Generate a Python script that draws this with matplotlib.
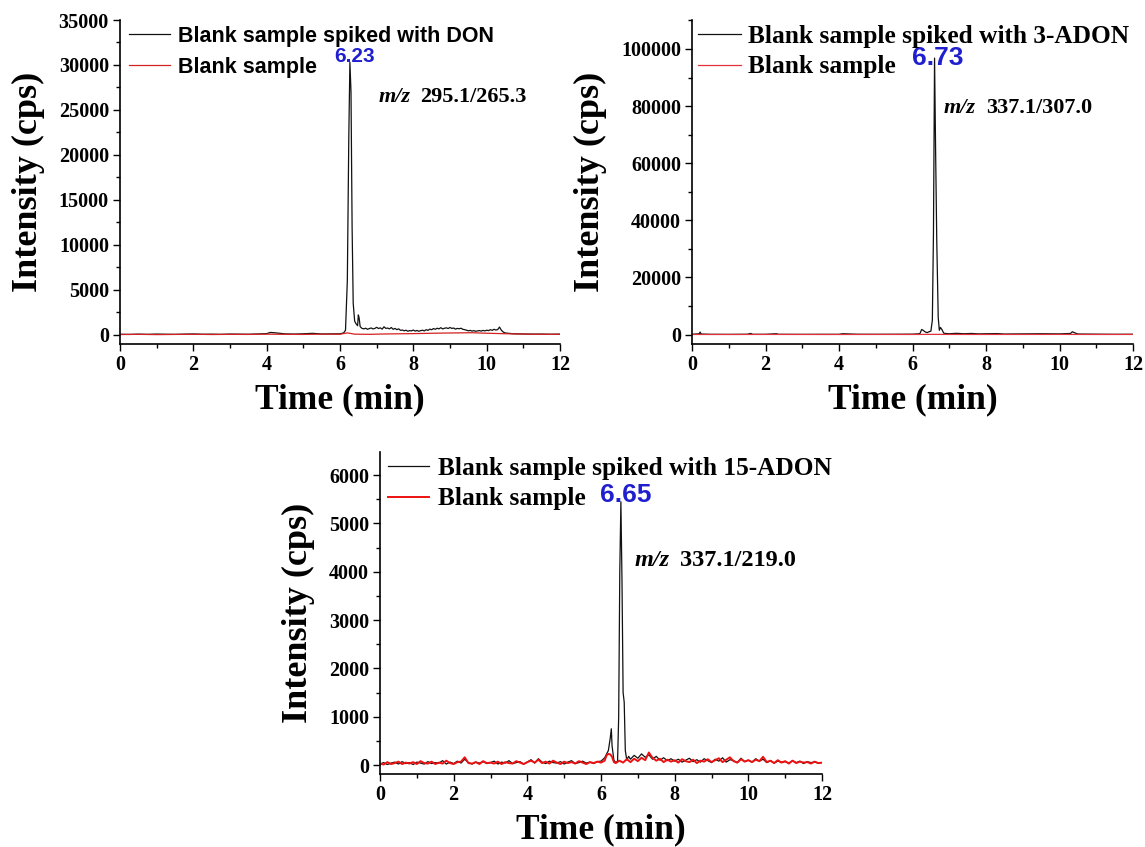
import matplotlib
matplotlib.use("Agg")
import matplotlib.pyplot as plt
from matplotlib.ticker import MultipleLocator

# ---------------- data ----------------
# Panel 1: DON, m/z 295.1/265.3
don_spiked_t = [0.0, 0.25, 0.5, 0.75, 1.0, 1.25, 1.5, 1.75, 2.0, 2.25, 2.5, 2.75, 3.0, 3.25, 3.5, 3.75,
                4.0, 4.1, 4.2, 4.3, 4.5, 4.75, 5.0, 5.25, 5.5, 5.75, 6.0, 6.1, 6.15, 6.2, 6.24, 6.27,
                6.3, 6.33, 6.36, 6.4, 6.44, 6.48, 6.5, 6.52, 6.55, 6.6,
                6.65, 6.7, 6.75, 6.8, 6.85, 6.9, 6.95, 7.0, 7.05, 7.1, 7.15, 7.2, 7.25, 7.3, 7.35, 7.4,
                7.45, 7.5, 7.55, 7.6, 7.65, 7.7, 7.75, 7.8, 7.85, 7.9, 7.95, 8.0, 8.05, 8.1, 8.15, 8.2,
                8.25, 8.3, 8.35, 8.4, 8.45, 8.5, 8.55, 8.6, 8.65, 8.7, 8.75, 8.8, 8.85, 8.9, 8.95, 9.0,
                9.05, 9.1, 9.15, 9.2, 9.25, 9.3, 9.35, 9.4, 9.45, 9.5, 9.55, 9.6, 9.65, 9.7, 9.75, 9.8,
                9.85, 9.9, 9.95, 10.0, 10.05, 10.1, 10.15, 10.2, 10.25, 10.3,
                10.35, 10.4, 10.45, 10.5, 10.6, 10.75, 11.0, 11.25, 11.5, 11.75, 12.0]
don_spiked_i = [50, 30, 60, 40, 70, 50, 40, 60, 80, 50, 60, 40, 70, 60, 50, 80,
                120, 250, 220, 180, 90, 70, 100, 150, 80, 90, 100, 200, 500, 6000, 22000, 30300,
                27000, 12000, 3500, 1500, 1200, 1000, 2200, 1900, 900, 700,
                650, 720, 600, 680, 750, 640, 700, 820, 690, 760, 620, 880, 700, 740, 650, 800,
                600, 700, 560, 650, 480, 520, 430, 500, 380, 460, 420, 520, 400, 470, 380, 450,
                500, 420, 560, 480, 620, 550, 680, 600, 720, 650, 780, 640, 720, 760, 690, 800,
                700, 740, 620, 700, 660, 720, 600, 560, 500, 430, 480, 400, 450, 380, 420, 460,
                400, 480, 420, 500, 450, 560, 480, 600, 520, 560,
                850, 500, 300, 200, 150, 100, 80, 60, 70, 50, 60]

don_blank_t = [0.0, 0.5, 1.0, 1.5, 2.0, 2.5, 3.0, 3.5, 4.0, 4.5, 5.0, 5.5, 6.0, 6.2, 6.4, 6.8,
               7.2, 7.6, 8.0, 8.4, 8.8, 9.2, 9.6, 10.0, 10.4, 10.8, 11.2, 11.6, 12.0]
don_blank_i = [20, 40, 10, 30, 50, 20, 40, 30, 60, 40, 30, 60, 50, 200, 60, 40,
               80, 100, 120, 150, 180, 200, 220, 160, 120, 80, 60, 40, 50]

# Panel 2: 3-ADON, m/z 337.1/307.0
adon3_spiked_t = [0.0, 0.2, 0.22, 0.25, 0.5, 1.0, 1.5, 1.6, 1.65, 2.0, 2.3, 2.35, 2.5, 3.0, 3.5,
                  4.0, 4.1, 4.5, 5.0, 5.5, 6.0, 6.2, 6.25, 6.3, 6.35, 6.4, 6.45, 6.5, 6.54, 6.57,
                  6.6, 6.63, 6.66, 6.7, 6.73, 6.76, 6.8, 6.85, 6.9, 7.0, 7.2, 7.4, 7.6, 7.8, 8.0,
                  8.3, 8.5, 9.0, 9.5, 10.0, 10.3, 10.35, 10.4, 10.5, 11.0, 11.5, 12.0]
adon3_spiked_i = [100, 300, 900, 200, 100, 80, 120, 400, 100, 100, 300, 100, 100, 80, 100,
                  100, 300, 120, 100, 120, 150, 300, 1800, 1400, 900, 700, 1000, 1200, 5000, 35000,
                  96800, 63000, 33000, 6000, 1500, 2500, 1800, 500, 400, 300, 450, 300, 400, 250, 300,
                  350, 200, 250, 300, 250, 400, 1000, 700, 200, 150, 100, 120]

adon3_blank_t = [0.0, 1.0, 2.0, 3.0, 4.0, 5.0, 6.0, 6.5, 7.0, 8.0, 9.0, 10.0, 11.0, 12.0]
adon3_blank_i = [50, 40, 60, 50, 40, 60, 50, 80, 60, 50, 60, 70, 50, 60]

# Panel 3: 15-ADON, m/z 337.1/219.0
adon15_spiked_t = [0.0, 0.1, 0.2, 0.3, 0.4, 0.5, 0.6, 0.7, 0.8, 0.9, 1.0, 1.1, 1.2, 1.3, 1.4, 1.5,
                   1.6, 1.7, 1.8, 1.9, 2.0, 2.1, 2.2, 2.3, 2.4, 2.5, 2.6, 2.7, 2.8, 2.9, 3.0, 3.1,
                   3.2, 3.3, 3.4, 3.5, 3.6, 3.7, 3.8, 3.9, 4.0, 4.1, 4.2, 4.3, 4.4, 4.5, 4.6, 4.7,
                   4.8, 4.9, 5.0, 5.1, 5.2, 5.3, 5.4, 5.5, 5.6, 5.7, 5.8, 5.9, 6.0, 6.1,
                   6.2, 6.25, 6.28, 6.3, 6.35, 6.4, 6.45, 6.48, 6.51, 6.54, 6.57, 6.6, 6.63, 6.66,
                   6.7, 6.75, 6.8, 6.9, 7.0, 7.1, 7.2, 7.3, 7.4, 7.5, 7.6, 7.7, 7.8, 7.9, 8.0,
                   8.1, 8.2, 8.3, 8.4, 8.5, 8.6, 8.7, 8.8, 8.9, 9.0, 9.1, 9.2, 9.3, 9.4, 9.5,
                   9.6, 9.7, 9.8, 9.9, 10.0, 10.1, 10.2, 10.3, 10.4, 10.5, 10.6, 10.7, 10.8, 10.9,
                   11.0, 11.1, 11.2, 11.3, 11.4, 11.5, 11.6, 11.7, 11.8, 11.9, 12.0]
adon15_spiked_i = [20, 50, 10, 40, 60, 20, 70, 30, 50, 10, 60, 40, 20, 70, 30, 50,
                   40, 90, 20, 60, 30, 80, 40, 120, 50, 20, 60, 40, 70, 30, 50, 80,
                   20, 60, 40, 90, 30, 50, 70, 20, 60, 110, 40, 130, 60, 30, 80, 50,
                   40, 70, 20, 60, 90, 30, 50, 80, 40, 60, 30, 70, 80, 150,
                   300, 550, 750, 400, 100, 50, 80, 1000, 4000, 5450, 3800, 1500, 1300, 300,
                   100, 180, 120, 200, 140, 230, 160, 210, 120, 180, 100, 150, 90, 130, 80,
                   120, 60, 100, 140, 70, 110, 60, 130, 90, 50, 120, 80, 150, 60, 110,
                   90, 50, 140, 70, 100, 60, 130, 80, 120, 50, 90, 40, 80, 60,
                   70, 40, 90, 50, 80, 30, 70, 50, 60, 40, 50]

adon15_blank_t = [0.0, 0.1, 0.2, 0.3, 0.4, 0.5, 0.6, 0.7, 0.8, 0.9, 1.0, 1.1, 1.2, 1.3, 1.4, 1.5,
                  1.6, 1.7, 1.8, 1.9, 2.0, 2.1, 2.2, 2.3, 2.4, 2.5, 2.6, 2.7, 2.8, 2.9, 3.0, 3.1,
                  3.2, 3.3, 3.4, 3.5, 3.6, 3.7, 3.8, 3.9, 4.0, 4.1, 4.2, 4.3, 4.4, 4.5, 4.6, 4.7,
                  4.8, 4.9, 5.0, 5.1, 5.2, 5.3, 5.4, 5.5, 5.6, 5.7, 5.8, 5.9, 6.0, 6.1, 6.15, 6.2,
                  6.25, 6.3, 6.35, 6.4, 6.5, 6.6, 6.7, 6.8, 6.9, 7.0, 7.1, 7.2, 7.3, 7.35, 7.4, 7.5,
                  7.6, 7.7, 7.8, 7.9, 8.0, 8.1, 8.2, 8.3, 8.4, 8.5, 8.6, 8.7, 8.8, 8.9, 9.0, 9.1,
                  9.2, 9.3, 9.4, 9.5, 9.6, 9.7, 9.8, 9.9, 10.0, 10.1, 10.2, 10.3, 10.4, 10.5, 10.6,
                  10.7, 10.8, 10.9, 11.0, 11.1, 11.2, 11.3, 11.4, 11.5, 11.6, 11.7, 11.8, 11.9, 12.0]
adon15_blank_i = [30, 10, 60, 20, 40, 70, 20, 50, 30, 60, 20, 80, 40, 30, 70, 20,
                  50, 30, 90, 40, 20, 60, 70, 160, 40, 30, 60, 20, 80, 40, 50, 30,
                  70, 20, 60, 40, 30, 80, 50, 20, 60, 90, 50, 110, 40, 70, 30, 90,
                  50, 20, 70, 40, 60, 30, 80, 50, 20, 60, 40, 70, 50, 90, 200, 230,
                  220, 170, 60, 40, 90, 50, 120, 60, 130, 80, 150, 100, 260, 200, 150, 90,
                  130, 60, 110, 70, 100, 50, 120, 80, 60, 110, 40, 90, 70, 120, 60, 100,
                  140, 60, 110, 160, 80, 50, 120, 70, 100, 60, 110, 80, 170, 60, 90,
                  40, 100, 50, 80, 30, 90, 40, 70, 50, 60, 30, 70, 40, 50]

x_ticks = [0, 2, 4, 6, 8, 10, 12]

# ---------------- style ----------------
SERIF = "Liberation Serif"
SANS = "Liberation Sans"
plt.rcParams["font.family"] = SERIF
plt.rcParams["font.weight"] = "bold"

fig = plt.figure(figsize=(11.45, 8.47), dpi=100)

axes_rects = [
    (120 / 1145, 1 - 344 / 847, 440 / 1145, 324 / 847),
    (692 / 1145, 1 - 344 / 847, 441 / 1145, 324 / 847),
    (380 / 1145, 1 - 774 / 847, 442 / 1145, 322 / 847),
]
ylims = [(-1035, 35000), (-3290, 110150), (-186, 6480)]
ymajor = [5000, 20000, 1000]
ymax_tick = [35000, 100000, 6000]

BLUE = "#1f1fcf"


def style_axis(ax, ylim, ymaj, ytop):
    ax.set_xlim(0, 12)
    ax.set_ylim(*ylim)
    ax.spines["top"].set_visible(False)
    ax.spines["right"].set_visible(False)
    for s in ("left", "bottom"):
        ax.spines[s].set_linewidth(1.2)
    ax.set_xticks(x_ticks)
    ax.xaxis.set_minor_locator(MultipleLocator(1))
    ax.set_yticks(list(range(0, ytop + 1, ymaj)))
    ax.yaxis.set_minor_locator(MultipleLocator(ymaj / 2))
    ax.tick_params(which="major", direction="out", length=5, width=1.0, labelsize=14.5, pad=3)
    ax.tick_params(which="minor", direction="out", length=3, width=1.0)
    for lab in ax.get_xticklabels() + ax.get_yticklabels():
        lab.set_fontweight("bold")
        lab.set_family(SERIF)
    ax.set_xlabel("Time (min)", fontsize=25.5, fontweight="bold", labelpad=6)
    ax.set_ylabel("Intensity (cps)", fontsize=26, fontweight="bold", labelpad=10)


def mz_label(ax, x, y, value, size):
    t1 = ax.text(x, y, "m/z", fontsize=size, style="italic", fontweight="bold",
                 va="center", ha="left")
    ax.annotate(value, xy=(1, 0.5), xycoords=t1, xytext=(size * 0.45, 0),
                textcoords="offset points", fontsize=size, fontweight="bold",
                va="center", ha="left")


# Panel 1
ax1 = fig.add_axes(axes_rects[0])
ax1.plot(don_spiked_t, don_spiked_i, color="#111111", lw=0.9, label="Blank sample spiked with DON")
ax1.plot(don_blank_t, don_blank_i, color="#d42020", lw=0.9, label="Blank sample")
style_axis(ax1, ylims[0], ymajor[0], ymax_tick[0])
ax1.legend(loc="upper left", bbox_to_anchor=(0.02, 0.982), frameon=False, borderpad=0,
           borderaxespad=0, handlelength=1.9, handletextpad=0.4, labelspacing=0.45,
           prop={"family": SANS, "weight": "bold", "size": 15.5})
ax1.text(6.4, 30900, "6.23", color=BLUE, fontsize=15, fontweight="bold", family=SANS,
         ha="center", va="center")
mz_label(ax1, 7.05, 26400, "295.1/265.3", 16)

# Panel 2
ax2 = fig.add_axes(axes_rects[1])
ax2.plot(adon3_spiked_t, adon3_spiked_i, color="#111111", lw=0.9, label="Blank sample spiked with 3-ADON")
ax2.plot(adon3_blank_t, adon3_blank_i, color="#e0303a", lw=0.9, label="Blank sample")
style_axis(ax2, ylims[1], ymajor[1], ymax_tick[1])
ax2.legend(loc="upper left", bbox_to_anchor=(0.014, 0.985), frameon=False, borderpad=0,
           borderaxespad=0, handlelength=1.7, handletextpad=0.25, labelspacing=0.3,
           prop={"family": SERIF, "weight": "bold", "size": 18.3})
ax2.text(6.7, 96800, "6.73", color=BLUE, fontsize=19, fontweight="bold", family=SANS,
         ha="center", va="center")
mz_label(ax2, 6.85, 79300, "337.1/307.0", 16)

# Panel 3
ax3 = fig.add_axes(axes_rects[2])
ax3.plot(adon15_spiked_t, adon15_spiked_i, color="#111111", lw=0.9, label="Blank sample spiked with 15-ADON")
ax3.plot(adon15_blank_t, adon15_blank_i, color="#ee1111", lw=1.4, label="Blank sample")
style_axis(ax3, ylims[2], ymajor[2], ymax_tick[2])
ax3.legend(loc="upper left", bbox_to_anchor=(0.018, 0.985), frameon=False, borderpad=0,
           borderaxespad=0, handlelength=1.6, handletextpad=0.35, labelspacing=0.3,
           prop={"family": SERIF, "weight": "bold", "size": 18.3})
ax3.text(6.68, 5590, "6.65", color=BLUE, fontsize=19, fontweight="bold", family=SANS,
         ha="center", va="center")
mz_label(ax3, 6.9, 4240, "337.1/219.0", 17.5)

fig.savefig("out.png", dpi=100)
